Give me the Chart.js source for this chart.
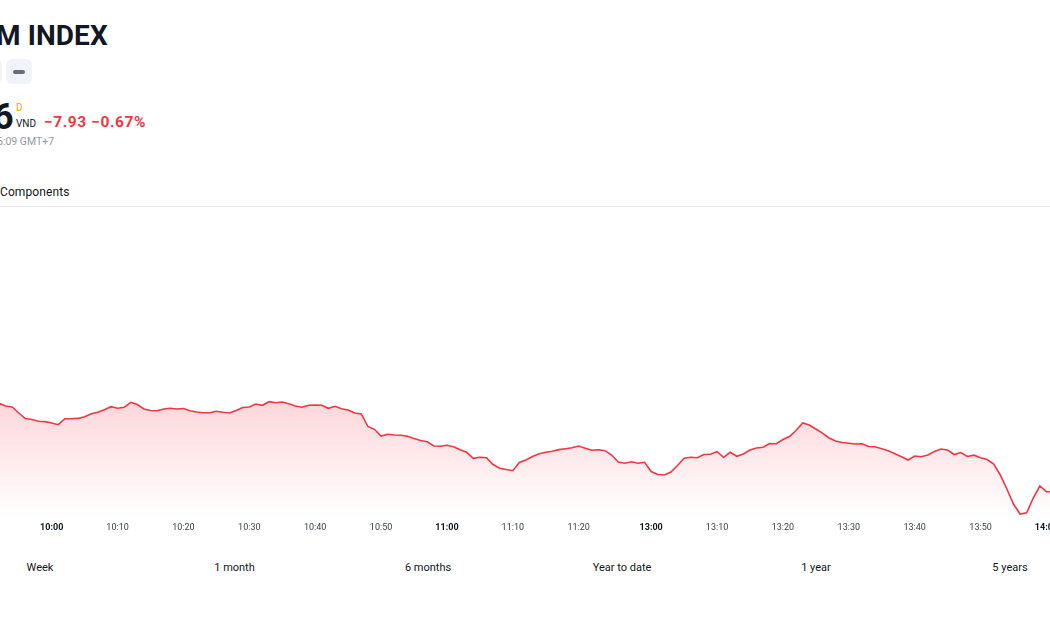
<!DOCTYPE html>
<html>
<head>
<meta charset="utf-8">
<script src="https://cdn.jsdelivr.net/npm/chart.js@4.4.1/dist/chart.umd.min.js"></script>
<style>
  html, body { margin: 0; padding: 0; background: #fff; width: 1050px; height: 630px; overflow: hidden; position: relative; font-family: Roboto, "Liberation Sans", sans-serif; color: #131722; }
  .abs { position: absolute; white-space: nowrap; line-height: 1; }
  #title { left: -4px; top: 22px; font-size: 28px; font-weight: 700; letter-spacing: 0.1px; }
  .btn { position: absolute; top: 59px; width: 26px; height: 25px; background: #f0f3fa; border-radius: 6px; }
  .dash { position: absolute; left: 7px; top: 11px; width: 12px; height: 4px; background: #6a6d78; border-radius: 2px; }
  #price { left: -7px; top: 99px; font-size: 36px; font-weight: 700; }
  #cur1 { left: 16px; top: 103px; font-size: 10px; color: #f7a600; }
  #cur2 { left: 16px; top: 119px; font-size: 10px; }
  #chg { left: 44px; top: 115px; font-size: 15.5px; font-weight: 700; color: #f23645; letter-spacing: 0.6px; }
  #time { left: -3px; top: 137px; font-size: 10.5px; color: #9598a1; }
  #comp { left: 0px; top: 186px; font-size: 12px; letter-spacing: 0.1px; }
  #rule { position: absolute; left: 0; top: 206px; width: 1050px; height: 1px; background: #e3e4e8; }
  .rng { position: absolute; top: 562px; font-size: 11px; transform: translateX(-50%); white-space: nowrap; line-height: 1; color: #131722; }
  #wrap { position: absolute; left: -1px; top: 210px; width: 1054px; height: 330px; }
</style>
</head>
<body>
<div class="abs" id="title">M INDEX</div>
<div class="btn" style="left:-24px"></div>
<div class="btn" style="left:6px"><div class="dash"></div></div>
<div class="abs" id="price">6</div>
<div class="abs" id="cur1">D</div>
<div class="abs" id="cur2">VND</div>
<div class="abs" id="chg">−7.93 −0.67%</div>
<div class="abs" id="time">6:09 GMT+7</div>
<div class="abs" id="comp">Components</div>
<div id="rule"></div>
<div id="wrap"><canvas id="c" width="1054" height="330"></canvas></div>
<div class="rng" style="left:40px">Week</div>
<div class="rng" style="left:234.5px">1 month</div>
<div class="rng" style="left:428px">6 months</div>
<div class="rng" style="left:622px">Year to date</div>
<div class="rng" style="left:816px">1 year</div>
<div class="rng" style="left:1010px">5 years</div>
<script>
// Trading minutes: morning session 09:52–11:30, afternoon 13:00–14:01
const morningStart = [9, 52], morningEnd = [11, 30];
const afternoonStart = [13, 0], afternoonEnd = [14, 1];

function minuteLabels(start, end) {
  const out = [];
  let h = start[0], m = start[1];
  while (h < end[0] || (h === end[0] && m <= end[1])) {
    out.push(String(h).padStart(2, '0') + ':' + String(m).padStart(2, '0'));
    m++; if (m === 60) { m = 0; h++; }
  }
  return out;
}
const timeLabels = minuteLabels(morningStart, morningEnd).concat(minuteLabels(afternoonStart, afternoonEnd));
// Tick labels shown on the time axis
const tickLabels = ['10:00', '10:10', '10:20', '10:30', '10:40', '10:50', '11:00', '11:10', '11:20',
                    '13:00', '13:10', '13:20', '13:30', '13:40', '13:50', '14:00'];
const boldTicks = ['10:00', '11:00', '13:00', '14:00'];

const morningValues = [
  1184.44, 1184.17, 1184.07, 1183.47, 1182.92, 1182.82, 1182.64, 1182.61, 1182.47, 1182.30,
  1182.90, 1182.90, 1182.93, 1183.10, 1183.40, 1183.54, 1183.80, 1184.10, 1183.94, 1184.04,
  1184.54, 1184.32, 1183.87, 1183.72, 1183.70, 1183.87, 1183.94, 1183.87, 1183.92, 1183.69,
  1183.57, 1183.50, 1183.50, 1183.64, 1183.54, 1183.47, 1183.72, 1184.02, 1184.07, 1184.37,
  1184.24, 1184.60, 1184.50, 1184.57, 1184.39, 1184.17, 1184.04, 1184.24, 1184.27, 1184.24,
  1183.94, 1184.14, 1183.90, 1183.77, 1183.47, 1183.37, 1182.12, 1181.84, 1181.17, 1181.34,
  1181.27, 1181.24, 1181.14, 1180.92, 1180.72, 1180.59, 1180.17, 1180.14, 1180.24, 1180.10,
  1179.80, 1179.54, 1178.94, 1179.04, 1179.00, 1178.32, 1177.94, 1177.82, 1177.70, 1178.52,
  1178.77, 1179.12, 1179.39, 1179.55, 1179.65, 1179.81, 1179.90, 1180.00, 1180.17, 1179.94,
  1179.74, 1179.80, 1179.70, 1179.27, 1178.57, 1178.44, 1178.60, 1178.44, 1178.54
];
const afternoonValues = [
  1177.62, 1177.32, 1177.27, 1177.57, 1178.22, 1178.94, 1179.04, 1179.00, 1179.32, 1179.34,
  1179.60, 1179.04, 1179.54, 1179.14, 1179.37, 1179.77, 1179.97, 1180.04, 1180.42, 1180.40,
  1180.82, 1181.12, 1181.72, 1182.47, 1182.27, 1181.87, 1181.45, 1180.97, 1180.67, 1180.52,
  1180.44, 1180.37, 1180.40, 1180.12, 1180.10, 1179.89, 1179.69, 1179.39, 1179.10, 1178.77,
  1179.17, 1179.10, 1179.27, 1179.62, 1179.87, 1179.77, 1179.32, 1179.52, 1179.12, 1179.25,
  1179.00, 1178.82, 1178.37, 1177.27, 1175.87, 1174.37, 1173.37, 1173.49, 1174.97, 1176.17,
  1175.60, 1175.60
];
const priceValues = morningValues.concat(afternoonValues);

const yMin = 1173.07, yMax = 1203.77;
const lineColor = '#f23645';

const ctx = document.getElementById('c').getContext('2d');
new Chart(ctx, {
  type: 'line',
  data: {
    labels: timeLabels,
    datasets: [{
      data: priceValues,
      borderColor: lineColor,
      borderWidth: 1.6,
      pointRadius: 0,
      tension: 0,
      fill: 'start',
      backgroundColor: (c) => {
        const chart = c.chart;
        const area = chart.chartArea;
        if (!area) return 'rgba(242,54,69,0.15)';
        const top = chart.scales.y.getPixelForValue(Math.max(...priceValues));
        const g = chart.ctx.createLinearGradient(0, top, 0, area.bottom);
        g.addColorStop(0, 'rgba(242,54,69,0.20)');
        g.addColorStop(1, 'rgba(242,54,69,0.0)');
        return g;
      }
    }]
  },
  options: {
    responsive: false,
    animation: false,
    layout: { padding: 0 },
    plugins: { legend: { display: false }, tooltip: { enabled: false } },
    scales: {
      x: {
        type: 'category',
        offset: false,
        grid: { display: false, tickLength: 5 },
        border: { display: false },
        afterFit: (s) => { s.height = 23; },
        ticks: {
          autoSkip: false,
          maxRotation: 0,
          padding: 0,
          callback: function (v, i) {
            const l = timeLabels[i];
            return tickLabels.includes(l) ? l : '';
          },
          font: (c) => {
            const l = timeLabels[c.index] || '';
            return { family: 'Roboto, "Liberation Sans", sans-serif', size: 9, weight: boldTicks.includes(l) ? '700' : '400' };
          },
          color: (c) => {
            const l = timeLabels[c.index] || '';
            return boldTicks.includes(l) ? '#131722' : '#3a3e49';
          }
        }
      },
      y: {
        display: false,
        min: yMin,
        max: yMax
      }
    }
  }
});
</script>
</body>
</html>
